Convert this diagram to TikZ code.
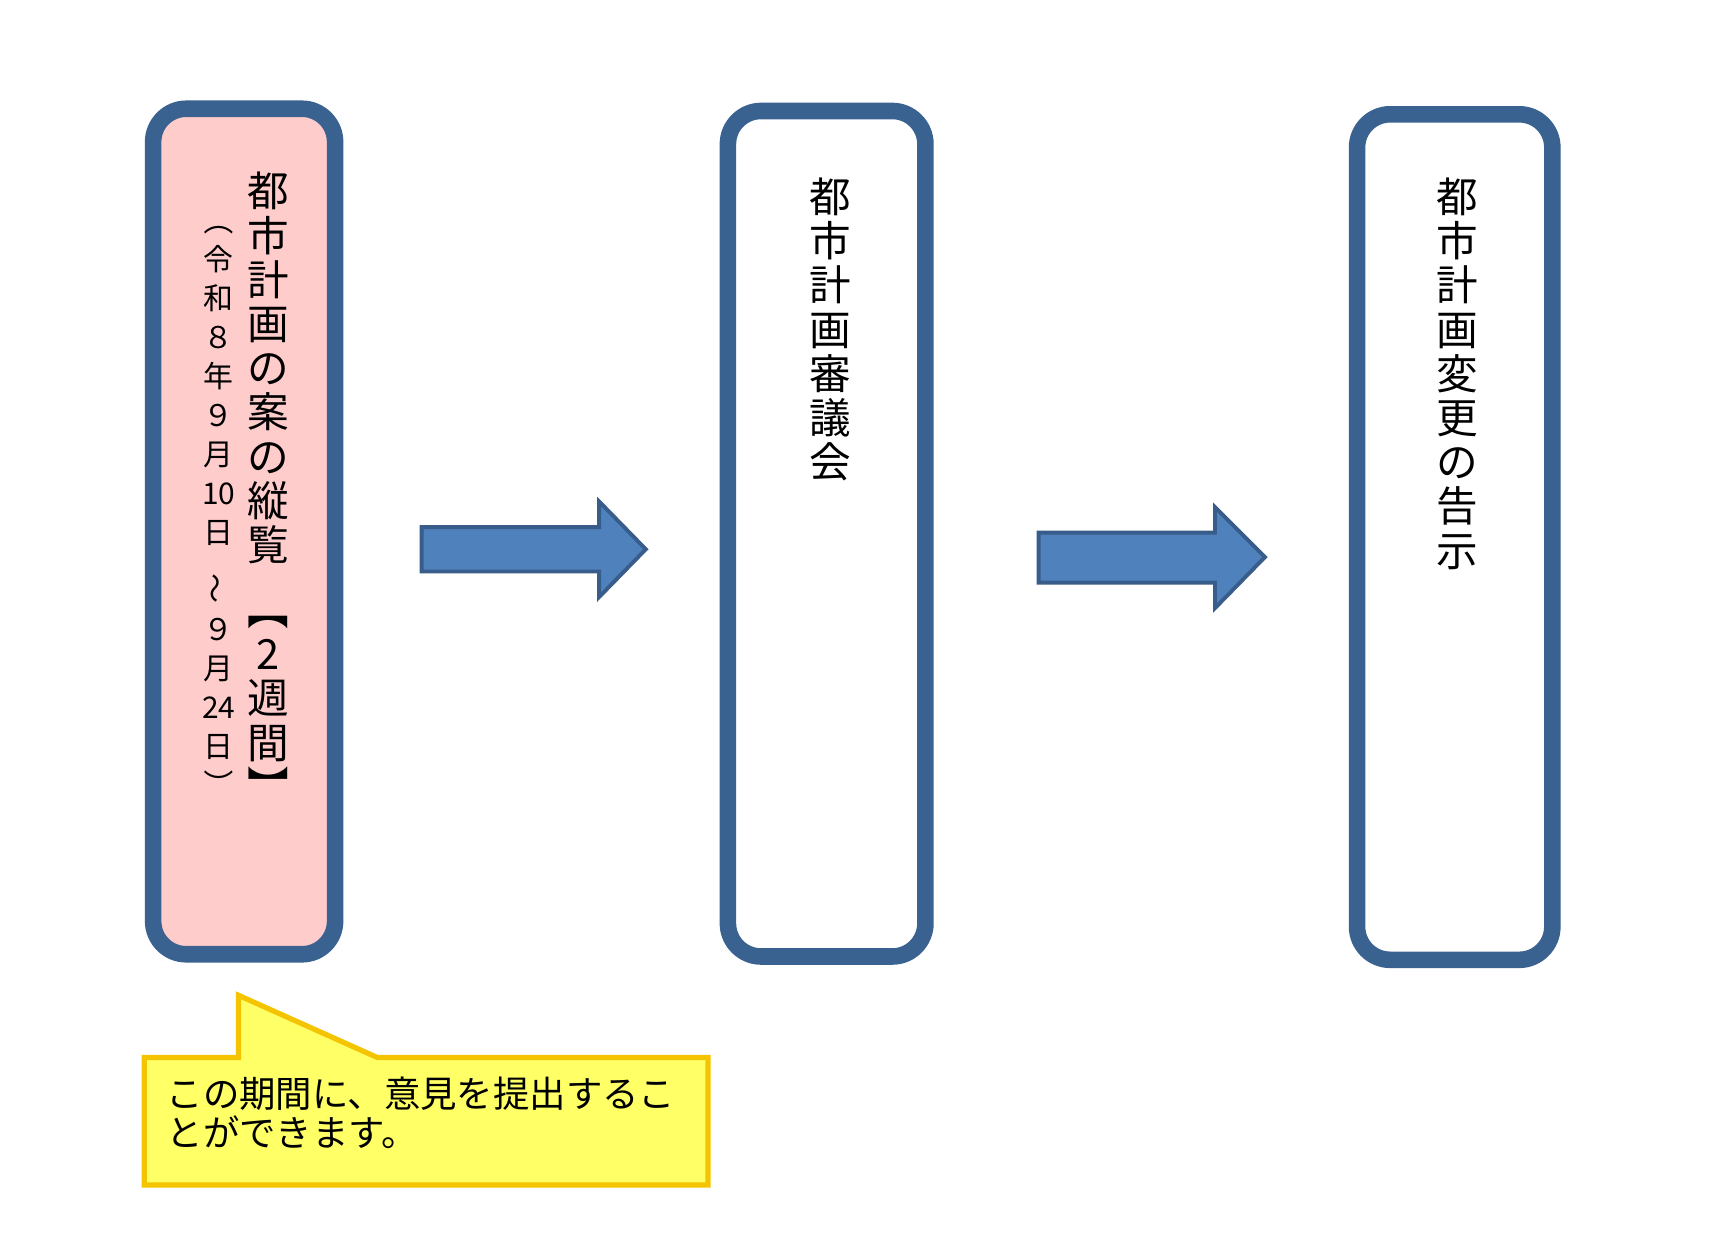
\documentclass[tikz,border=0pt]{standalone}
\usepackage{fontspec}
\setmainfont{Noto Sans CJK JP}
\usepackage{graphicx}
\definecolor{frameblue}{HTML}{3A6291}
\definecolor{arrowfill}{HTML}{4F81BD}
\definecolor{arrowline}{HTML}{385D8A}
\definecolor{pinkfill}{HTML}{FFCCCC}
\definecolor{notefill}{HTML}{FFFF66}
\definecolor{noteline}{HTML}{F5C400}
\newcommand{\vr}[1]{\rotatebox[origin=c]{-90}{#1}}
\tikzset{
  stage/.style={draw=frameblue, line width=15*0.85pt, rounded corners=30*0.85pt},
  flowarrow/.style={draw=arrowline, fill=arrowfill, line width=3pt, line join=miter},
  vtext/.style={align=center, inner sep=0pt, anchor=north, font={\fontsize{32}{34}\selectfont}},
  vsmall/.style={align=center, inner sep=0pt, anchor=north, font={\fontsize{23}{30}\selectfont}},
}
\begin{document}
\begin{tikzpicture}[x=0.03cm, y=-0.03cm]
    \useasboundingbox[fill=white] (0,0) rectangle (1560,1116);

    % Stages
    \draw[stage, fill=pinkfill] (138,98) rectangle (302,860);
    \draw[stage, fill=white] (656,100) rectangle (834,862);
    \draw[stage, fill=white] (1223,103) rectangle (1399,865);

    % Stage texts
    \node[vtext] (view) at (242,155) {都\\市\\計\\画\\の\\案\\の\\縦\\覧\\[16pt]\vr{【}\\2\\週\\間\\\vr{】}};
    \node[vsmall] (date) at (197,185) {\vr{（}\\令\\和\\８\\年\\９\\月\\10\\日\\[10pt]\rotatebox[origin=c]{90}{～}\\[4pt]９\\月\\24\\日\\\vr{）}};
    \node[vtext] (council) at (748,160) {都\\市\\計\\画\\審\\議\\会};
    \node[vtext] (notice) at (1313,160) {都\\市\\計\\画\\変\\更\\の\\告\\示};

    % Arrows
    \draw[flowarrow] (380,475) -- (540,475) -- (540,452) -- (582,495) -- (540,538) -- (540,515) -- (380,515) -- cycle;
    \draw[flowarrow] (936,480) -- (1095,480) -- (1095,457) -- (1140,502) -- (1095,548) -- (1095,525) -- (936,525) -- cycle;

    % Callout
    \draw[draw=noteline, fill=notefill, line width=4pt] (130,953) -- (215,953) -- (215,897) -- (340,953) -- (638,953) -- (638,1068) -- (130,1068) -- cycle;
    \node[align=left, anchor=north west, inner sep=0pt, font={\fontsize{28}{30}\selectfont}] (note) at (150,970) {この期間に、意見を提出するこ\\とができます。};
\end{tikzpicture}
\end{document}
